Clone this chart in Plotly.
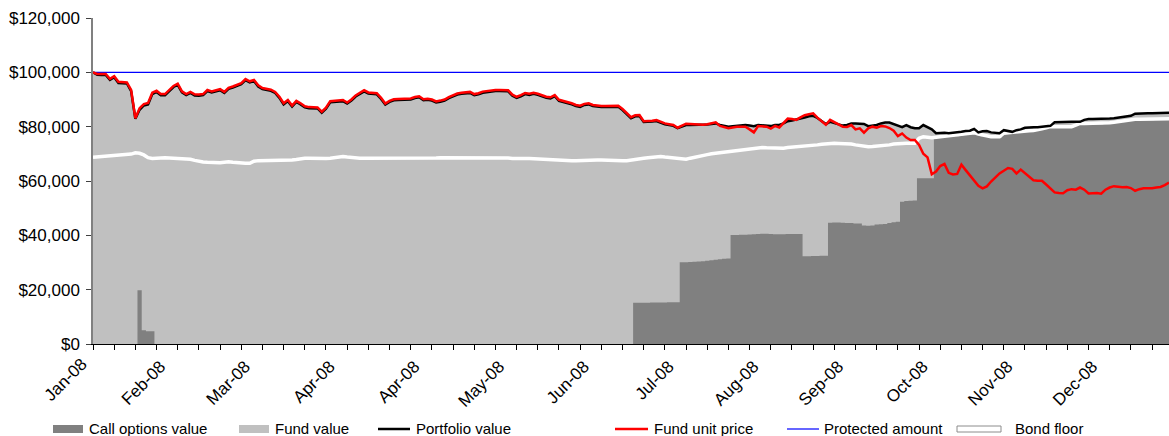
import plotly.graph_objects as go

# ---------------- data (values in $ thousands, one point per trading day) ----------------
unit_price_k = [
100.0,99.4,99.4,99.4,97.6,98.6,96.5,96.3,96.3,93.5,83.1,86.8,88.3,88.7,92.5,93.2,92.0,92.0,93.5,95.0,
95.8,93.0,92.0,92.8,91.9,91.8,92.0,93.5,93.0,93.3,93.8,92.8,94.3,94.8,95.3,96.0,97.5,96.7,97.2,95.2,
94.2,93.8,93.6,92.8,91.0,88.6,89.8,87.8,89.5,88.6,87.5,87.2,87.1,87.1,85.5,87.0,89.4,89.6,89.7,89.8,
88.9,90.0,91.5,92.4,93.4,92.6,92.4,92.3,90.6,88.5,89.5,90.1,90.2,90.2,90.3,90.4,90.9,91.2,90.1,90.3,
90.0,89.3,89.6,90.0,90.9,91.6,92.2,92.5,92.7,92.8,92.0,92.3,92.9,93.1,93.4,93.5,93.5,93.5,93.4,91.8,
91.0,91.6,92.4,92.1,92.5,92.1,91.6,91.0,90.8,91.6,89.9,89.5,89.0,88.6,88.0,87.7,88.4,88.6,88.0,87.7,
87.6,87.6,87.6,87.6,87.7,86.5,85.0,83.5,84.2,84.3,82.0,82.0,82.2,82.4,81.8,81.2,80.9,80.6,79.6,80.3,
81.1,81.0,80.9,80.8,80.7,80.9,81.3,81.6,80.3,79.8,79.4,79.7,80.0,80.0,80.0,79.0,77.9,80.2,80.1,80.0,
79.3,80.3,79.7,81.4,83.0,82.8,82.5,83.4,84.2,84.6,84.9,83.3,82.0,80.7,82.5,81.6,80.6,80.0,79.9,80.6,
79.0,79.4,77.8,79.4,80.0,79.6,80.2,80.1,79.5,78.5,76.5,77.5,76.0,75.1,75.1,73.3,70.0,68.7,62.5,63.5,
65.5,66.3,63.0,62.4,62.6,66.0,64.0,62.2,60.2,58.2,57.3,58.0,59.8,61.2,62.8,63.8,64.8,64.5,62.8,64.2,
63.0,61.8,60.3,60.1,60.1,58.7,57.2,55.8,55.6,55.5,56.6,57.0,56.8,57.6,56.8,55.4,55.5,55.6,55.3,56.8,
57.6,58.1,57.9,57.7,57.8,57.4,56.4,57.0,57.3,57.2,57.3,57.6,57.8,58.5,59.4]

portfolio_k = [
100.0,99.1,99.0,99.0,97.2,98.2,96.1,95.9,95.9,93.1,82.9,86.2,87.8,88.2,92.0,92.8,91.6,91.6,93.1,94.6,
95.4,92.6,91.6,92.4,91.5,91.4,91.6,93.1,92.6,92.9,93.4,92.4,93.9,94.4,94.9,95.6,97.1,96.3,96.8,94.8,
93.8,93.4,93.2,92.4,90.6,88.2,89.4,87.4,89.1,88.2,87.1,86.8,86.7,86.7,85.1,86.6,89.0,89.2,89.3,89.4,
88.5,89.6,91.1,92.0,93.0,92.2,92.0,91.9,90.2,88.1,89.1,89.7,89.8,89.8,89.9,90.0,90.5,90.8,89.7,89.9,
89.6,88.9,89.2,89.6,90.5,91.2,91.8,92.1,92.3,92.4,91.6,91.9,92.5,92.7,93.0,93.1,93.1,93.1,93.0,91.4,
90.6,91.2,92.0,91.7,92.1,91.7,91.2,90.6,90.4,91.2,89.5,89.1,88.6,88.2,87.6,87.3,88.0,88.2,87.6,87.3,
87.2,87.2,87.2,87.2,87.3,86.1,84.6,83.1,83.8,83.9,81.7,81.7,81.9,82.1,81.5,80.9,80.6,80.3,79.5,80.0,
80.6,80.6,80.6,80.6,80.6,80.8,81.0,81.2,80.6,80.2,80.0,80.2,80.4,80.5,80.6,80.4,80.2,80.6,80.5,80.4,
80.2,80.6,80.6,81.2,82.0,82.3,82.6,83.0,83.4,83.8,84.0,83.2,82.2,81.0,81.8,81.4,80.8,80.4,80.6,81.2,
81.2,81.2,81.0,80.2,80.5,80.6,81.2,81.5,81.5,81.0,80.4,79.8,80.6,79.8,79.4,79.4,80.6,79.8,79.0,77.6,
77.7,77.8,77.6,77.7,77.9,78.1,78.4,78.5,79.2,77.9,78.3,78.4,77.9,77.7,77.6,78.7,78.4,78.1,78.7,79.0,
79.6,79.8,79.8,79.8,79.9,80.1,80.3,81.6,81.7,81.8,81.8,81.8,81.8,81.8,82.5,82.8,82.8,82.8,82.9,83.0,
83.0,83.1,83.3,83.5,83.8,84.0,84.8,84.9,84.9,84.9,84.9,84.9,85.0,85.0,85.1]

bond_floor_k = [
68.7,68.8,68.9,69.0,69.1,69.2,69.3,69.4,69.5,69.9,70.4,70.2,69.6,68.6,68.3,68.5,68.7,68.6,68.5,68.4,
68.4,68.3,68.2,68.0,67.6,67.2,67.0,66.9,66.8,66.7,66.7,66.9,67.1,66.9,66.7,66.6,66.5,66.5,67.3,67.5,
67.5,67.5,67.4,67.5,67.5,67.6,67.6,67.7,67.9,68.2,68.4,68.4,68.3,68.4,68.4,68.3,68.4,68.6,68.8,69.0,
68.8,68.6,68.5,68.4,68.4,68.4,68.4,68.4,68.3,68.2,68.2,68.3,68.4,68.5,68.5,68.4,68.3,68.3,68.2,68.3,
68.4,68.5,68.6,68.6,68.7,68.7,68.8,68.8,68.8,68.8,68.7,68.7,68.8,68.8,68.8,68.7,68.6,68.5,68.5,68.3,
68.2,68.2,68.3,68.3,68.2,68.0,67.9,67.8,67.8,67.9,67.7,67.6,67.6,67.5,67.5,67.6,67.7,67.7,67.6,67.7,
67.7,67.6,67.5,67.5,67.5,67.5,67.5,67.8,68.1,68.4,68.4,68.6,68.8,69.0,69.0,68.8,68.6,68.4,68.2,68.0,
68.0,68.4,68.8,69.2,69.5,69.7,70.0,70.2,70.4,70.6,70.8,71.0,71.2,71.4,71.6,71.8,72.1,72.4,72.3,72.2,
72.1,72.0,72.0,72.1,72.3,72.4,72.5,72.6,72.8,72.9,73.1,73.3,73.5,73.7,73.9,73.9,73.8,73.8,73.7,73.6,
73.3,73.0,72.6,72.6,72.7,72.8,72.9,73.1,73.3,73.6,73.8,73.9,73.9,73.9,73.9,75.7,76.3,76.1,75.9,76.1,
76.3,76.6,76.7,76.8,76.9,77.1,77.3,77.5,77.8,77.3,76.9,76.6,76.3,76.3,76.3,77.6,77.8,78.0,78.1,78.3,
78.4,78.5,78.6,78.8,79.2,79.6,80.0,80.0,80.0,80.0,80.0,80.0,80.6,81.2,81.2,81.2,81.2,81.2,81.2,81.2,
81.4,81.6,81.8,82.1,82.4,82.7,82.7,82.7,82.7,82.8,82.8,82.8,82.9,82.9,82.9]

call_options_k = (
[0.0] * 11 + [19.8, 5.1, 4.7, 4.7] + [0.0] * 113 +
[15.2,15.2,15.2,15.2,15.3,15.3,15.3,15.3,15.4,15.4,15.4] +
[30.1,30.1,30.2,30.3,30.4,30.5,30.6,30.8,31.0,31.2,31.4,31.5] +
[40.1,40.1,40.2,40.2,40.3,40.4,40.5,40.6,40.6,40.5,40.4,40.4,40.4,40.5,40.5,40.5,40.5] +
[32.3,32.3,32.4,32.4,32.5,32.5] +
[44.6,44.7,44.7,44.6,44.5,44.5,44.4,44.4,43.6,43.5,43.6,44.0,44.1,44.2,44.5,44.8,45.0] +
[52.4,52.6,52.7,52.8] +
[61.0,61.0,61.0,61.0] +
[75.7,75.9,76.2,76.3,76.4,76.5,76.7,76.9,77.1,77.4,76.9,76.5,76.2,75.9,75.9,75.9,77.2,77.4,77.6,77.7,
 77.9,78.0,78.1,78.2,78.4,78.8,79.2,79.6,79.6,79.6,79.6,79.6,79.6,80.2,80.8,80.8,80.8,80.8,80.8,80.8,
 81.0,81.2,81.4,81.7,82.0,82.3,82.3,82.3,82.3,82.4,82.4,82.4,82.5,82.5,82.5,82.5]
)

protected_amount = 100000

first_label = "Jan-08"
tick_positions = [15, 35, 55, 75, 95, 115, 135, 155, 175, 195, 215, 235]
tick_labels = ["Feb-08", "Mar-08", "Apr-08", "Apr-08", "May-08", "Jun-08",
               "Jul-08", "Aug-08", "Sep-08", "Oct-08", "Nov-08", "Dec-08"]

# ---------------- derived ----------------
n = len(unit_price_k)
x = list(range(n))
unit_price = [v * 1000 for v in unit_price_k]
portfolio = [v * 1000 for v in portfolio_k]
bond_floor = [v * 1000 for v in bond_floor_k]
call_options = [v * 1000 for v in call_options_k]
fund_value = [p - c for p, c in zip(portfolio, call_options)]
stack_total = [c + f for c, f in zip(call_options, fund_value)]

FONT = "Liberation Sans, Arial, sans-serif"
W, H = 1169, 436
ML, MR, MT, MB = 93, 0, 18, 92
PW, PH = W - ML - MR, H - MT - MB

fig = go.Figure()
fig.add_trace(go.Scatter(x=x, y=stack_total, mode="lines", line=dict(width=0, color="#C0C0C0"),
                         fill="tozeroy", fillcolor="#C0C0C0", name="Fund value", showlegend=False))
fig.add_trace(go.Scatter(x=x, y=call_options, mode="lines", line=dict(width=0, color="#808080", shape="hvh"),
                         fill="tozeroy", fillcolor="#808080", name="Call options value", showlegend=False))
fig.add_trace(go.Scatter(x=x, y=bond_floor, mode="lines", line=dict(color="white", width=3.5),
                         name="Bond floor", showlegend=False))
fig.add_trace(go.Scatter(x=[x[0], x[-1]], y=[protected_amount, protected_amount], mode="lines",
                         line=dict(color="#0000FF", width=1.2), name="Protected amount", showlegend=False))
fig.add_trace(go.Scatter(x=x, y=portfolio, mode="lines", line=dict(color="black", width=2.5),
                         name="Portfolio value", showlegend=False))
fig.add_trace(go.Scatter(x=x, y=unit_price, mode="lines", line=dict(color="#FF0000", width=2.5),
                         name="Fund unit price", showlegend=False))

# ---------------- manual legend (Excel-style) ----------------
def px(xp):
    return (xp - ML) / PW

def py(yp):
    return (H - MB - yp) / PH

shapes = []
annotations = []
leg_y = 428.0
items = [
    ("rect", 53, 83, "#808080", "#808080", 87, "Call options value"),
    ("rect", 239, 269, "#C0C0C0", "#C0C0C0", 273, "Fund value"),
    ("line", 378, 410, "black", None, 414, "Portfolio value"),
    ("line", 615, 648, "#FF0000", None, 652, "Fund unit price"),
    ("line", 787, 819, "#0000FF", None, 822, "Protected amount"),
    ("hollow", 957, 1001, "white", "#8C8C8C", 1013, "Bond floor"),
]
for kind, x0, x1, col, lcol, tx, label in items:
    if kind == "rect":
        shapes.append(dict(type="rect", xref="paper", yref="paper", x0=px(x0), x1=px(x1),
                           y0=py(433), y1=py(425), fillcolor=col, line=dict(width=0)))
    elif kind == "hollow":
        shapes.append(dict(type="rect", xref="paper", yref="paper", x0=px(x0), x1=px(x1),
                           y0=py(432), y1=py(426), fillcolor=col, line=dict(width=1, color=lcol)))
    else:
        w = 1.2 if col == "#0000FF" else 2.5
        shapes.append(dict(type="line", xref="paper", yref="paper", x0=px(x0), x1=px(x1),
                           y0=py(leg_y + 1), y1=py(leg_y + 1), line=dict(color=col, width=w)))
    annotations.append(dict(text=label, xref="paper", yref="paper", x=px(tx), y=py(leg_y),
                            xanchor="left", yanchor="middle", showarrow=False,
                            font=dict(family=FONT, size=15, color="black")))

# first category label sits a little left of the axis origin, as in the original
annotations.append(dict(text=first_label, xref="paper", yref="paper", x=px(94), y=py(352),
                        xanchor="right", yanchor="top", textangle=-45, showarrow=False,
                        font=dict(family=FONT, size=17, color="black")))

fig.update_layout(
    width=W, height=H,
    margin=dict(l=ML, r=MR, t=MT, b=MB, pad=0),
    paper_bgcolor="white", plot_bgcolor="white",
    showlegend=False,
    font=dict(family=FONT, size=16, color="black"),
    shapes=shapes, annotations=annotations,
    xaxis=dict(range=[0, n - 1], tickmode="array", tickvals=tick_positions, ticktext=tick_labels,
               tickangle=-45, ticks="outside", ticklen=5, tickcolor="black", tickwidth=1,
               ticklabelshift=4,
               showline=True, linecolor="black", linewidth=1, showgrid=False, zeroline=False,
               tickfont=dict(family=FONT, size=17, color="black"), automargin=False,
               minor=dict(tickmode="linear", tick0=0, dtick=5, ticks="outside", ticklen=5,
                          tickcolor="black", showgrid=False)),
    yaxis=dict(range=[0, 120000], tickmode="linear", tick0=0, dtick=20000, tickprefix="$",
               tickformat=",d", ticks="outside", ticklen=5, tickcolor="#404040",
               ticklabelstandoff=3,
               showline=True, linecolor="#808080", linewidth=1.5, showgrid=False, zeroline=False,
               tickfont=dict(family=FONT, size=17, color="black"), automargin=False),
)

fig.write_html("out.html", config={"displayModeBar": False},
               post_script="document.body.style.margin='0px';document.body.style.padding='0px';")
